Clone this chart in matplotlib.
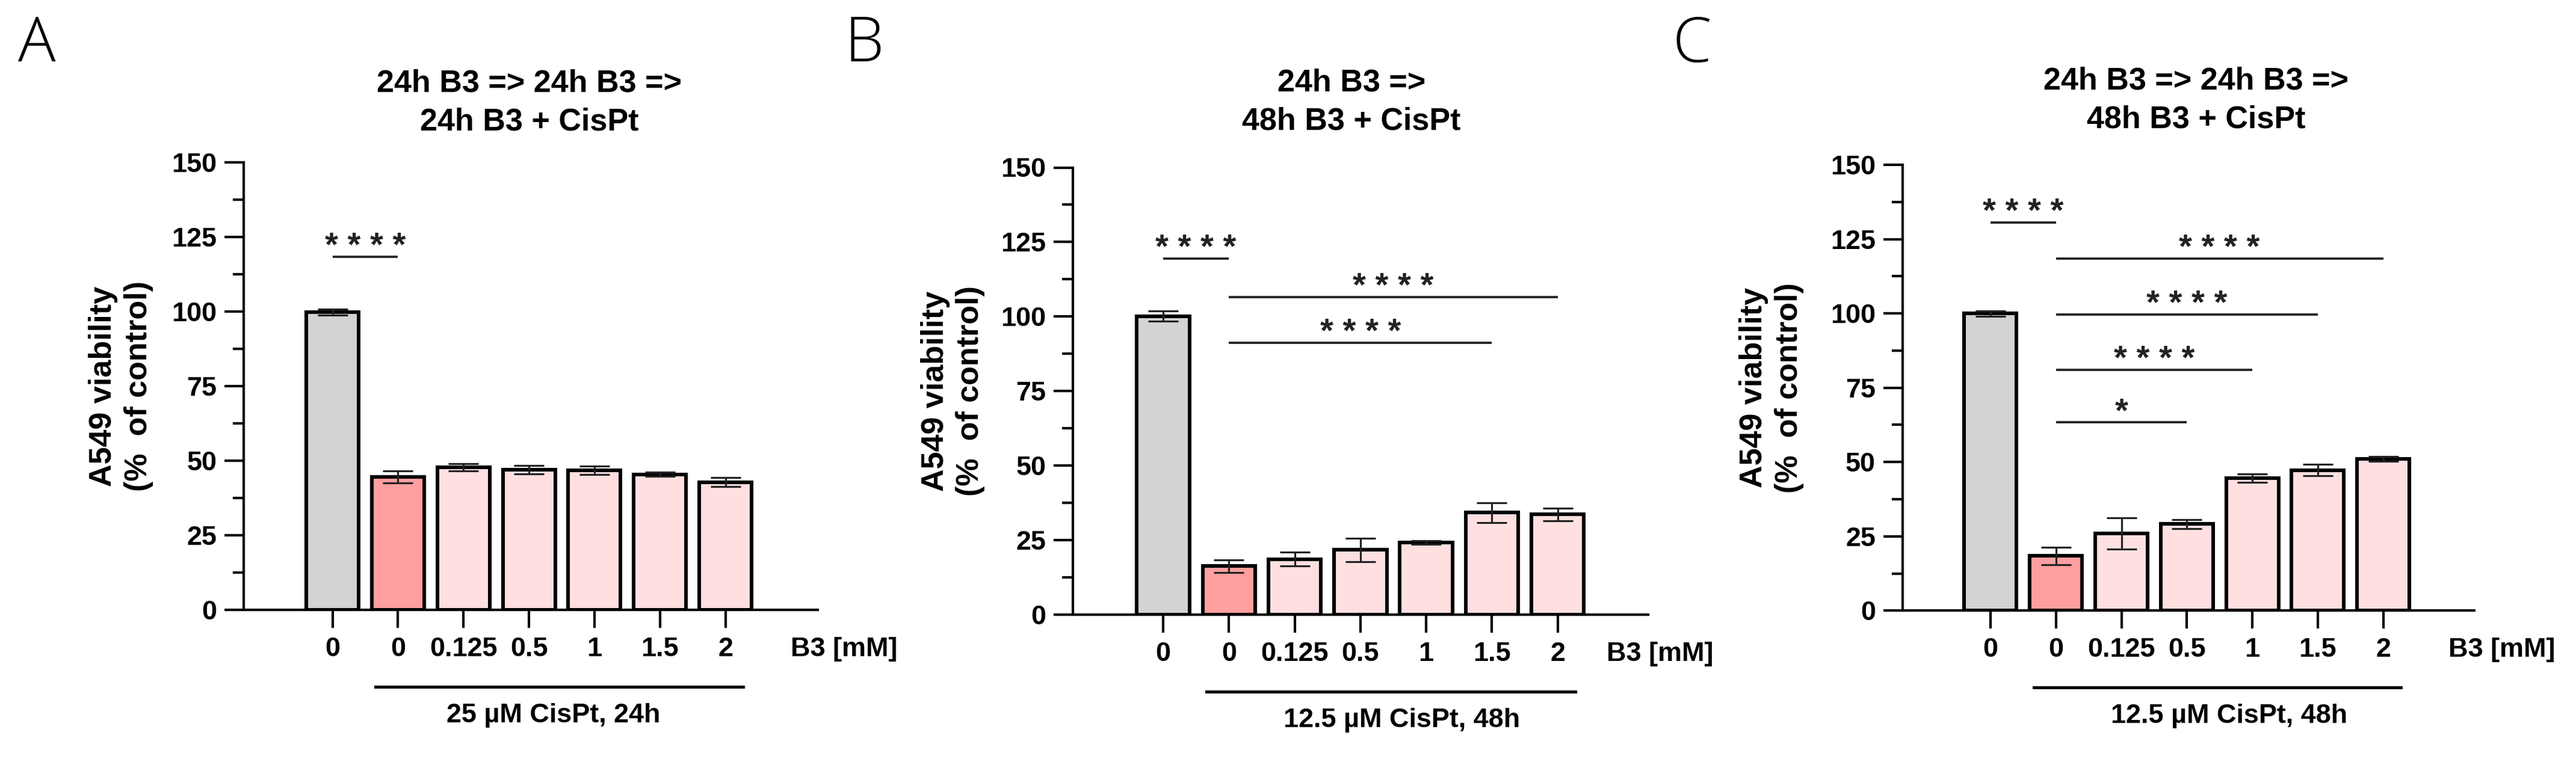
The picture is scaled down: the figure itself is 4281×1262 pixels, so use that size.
import matplotlib
matplotlib.use('Agg')
import matplotlib.pyplot as plt
from matplotlib.ticker import MultipleLocator
import matplotlib.transforms as mtransforms

plt.rcParams['font.family'] = ['Liberation Sans', 'DejaVu Sans']

# data
doses = ['0', '0', '0.125', '0.5', '1', '1.5', '2']
bar_colors = ['#d3d3d3', '#ff9f9f', '#ffdfe0', '#ffdfe0', '#ffdfe0', '#ffdfe0', '#ffdfe0']

viab_a = [99.8, 44.5, 47.7, 47.0, 46.8, 45.4, 42.8]
err_a = [1.0, 2.0, 1.2, 1.4, 1.4, 0.7, 1.5]
viab_b = [100.1, 16.3, 18.6, 21.7, 24.2, 34.2, 33.6]
err_b = [1.7, 2.1, 2.3, 3.9, 0.6, 3.4, 2.2]
viab_c = [100.0, 18.4, 25.9, 29.1, 44.5, 47.3, 51.1]
err_c = [0.9, 2.9, 5.3, 1.6, 1.4, 1.9, 0.8]

# significance: (from bar, to bar, height, stars)
sig_a = [(0, 1, 118.3, '****')]
sig_b = [(0, 1, 119.5, '****'), (1, 6, 106.5, '****'), (1, 5, 91.1, '****')]
sig_c = [(0, 1, 130.5, '****'), (1, 6, 118.4, '****'), (1, 5, 99.6, '****'),
         (1, 4, 81.1, '****'), (1, 3, 63.4, '*')]

titles = ['24h B3 => 24h B3 =>\n24h B3 + CisPt',
          '24h B3 =>\n48h B3 + CisPt',
          '24h B3 => 24h B3 =>\n48h B3 + CisPt']
treatments = ['25 µM CisPt, 24h', '12.5 µM CisPt, 48h', '12.5 µM CisPt, 48h']
letters = ['A', 'B', 'C']

W, H = 4281, 1262
fig = plt.figure(figsize=(W / 300, H / 300), dpi=300)

# panel layout in pixels: left, right, top(150), bottom(0)
boxes = [(405, 1359, 270, 1014), (1783, 2738.5, 278.5, 1022), (3161.5, 4111.7, 274, 1015.3)]
xlims = [(-1.356, 7.41), (-1.372, 7.37), (-1.347, 7.39)]
ylab_x = [-0.214, -0.209, -0.229]
title_pos = [(880, 171), (2246, 170), (3650, 167)]
letter_pos = [(61, 75), (1436, 75), (2812, 76)]
unit_x = [7.0, 6.74, 7.0]
treat_x = [3.37, 3.63, 3.65]

panels = [(viab_a, err_a, sig_a), (viab_b, err_b, sig_b), (viab_c, err_c, sig_c)]

for k, (vals, errs, sigs) in enumerate(panels):
    l, r, t, b = boxes[k]
    ax = fig.add_axes([l / W, 1 - b / H, (r - l) / W, (b - t) / H])
    x = list(range(len(doses)))
    ax.bar(x, vals, width=0.8, color=bar_colors, edgecolor='black', linewidth=1.45, zorder=2)
    ax.errorbar(x, vals, yerr=errs, fmt='none', ecolor='#222222', elinewidth=0.75,
                capsize=6, capthick=0.75, zorder=3)

    ax.set_xlim(*xlims[k])
    ax.set_ylim(0, 150)
    ax.yaxis.set_major_locator(MultipleLocator(25))
    ax.yaxis.set_minor_locator(MultipleLocator(12.5))
    ax.set_xticks(x)
    ax.set_xticklabels(doses)
    for s in ['top', 'right']:
        ax.spines[s].set_visible(False)
    for s in ['left', 'bottom']:
        ax.spines[s].set_linewidth(1.0)
    ax.tick_params(axis='y', which='major', length=7.7, width=1.0, pad=3, labelsize=10.8)
    ax.tick_params(axis='y', which='minor', length=4.3, width=1.0)
    ax.tick_params(axis='x', length=7.2, width=1.0, pad=3.5, labelsize=10.8)
    for lab in ax.get_xticklabels() + ax.get_yticklabels():
        lab.set_fontweight('bold')

    ax.set_ylabel('A549 viability\n(%  of control)', fontsize=12.5, fontweight='bold',
                  linespacing=1.25, ha='center', va='center')
    ax.yaxis.set_label_coords(ylab_x[k], 0.5)

    # significance bars
    for i, j, yy, stars in sigs:
        ax.plot([i, j], [yy, yy], color='#222222', lw=0.9, solid_capstyle='butt', zorder=4)
        ax.text((i + j) / 2, yy + 0.4, ' '.join(stars), ha='center', va='baseline',
                fontsize=13.5, fontweight='bold', color='#222222')

    # treatment bracket under the axis
    tr = mtransforms.blended_transform_factory(ax.transData, ax.transAxes)
    ax.plot([0.66, 6.27], [-0.172, -0.172], color='black', lw=1.2, transform=tr, clip_on=False)
    ax.text(treat_x[k], -0.236, treatments[k], transform=tr, ha='center', va='center',
            fontsize=10.8, fontweight='bold')
    ax.text(unit_x[k], -0.088, 'B3 [mM]', transform=tr, ha='left', va='center',
            fontsize=10.8, fontweight='bold')

    fig.text(title_pos[k][0] / W, 1 - title_pos[k][1] / H, titles[k], ha='center', va='center',
             fontsize=12.5, fontweight='bold', linespacing=1.4)
    fig.text(letter_pos[k][0] / W, 1 - letter_pos[k][1] / H, letters[k], ha='center', va='center',
             fontsize=25, family='Open Sans', fontweight='light')

fig.savefig('out.png', dpi=300)
